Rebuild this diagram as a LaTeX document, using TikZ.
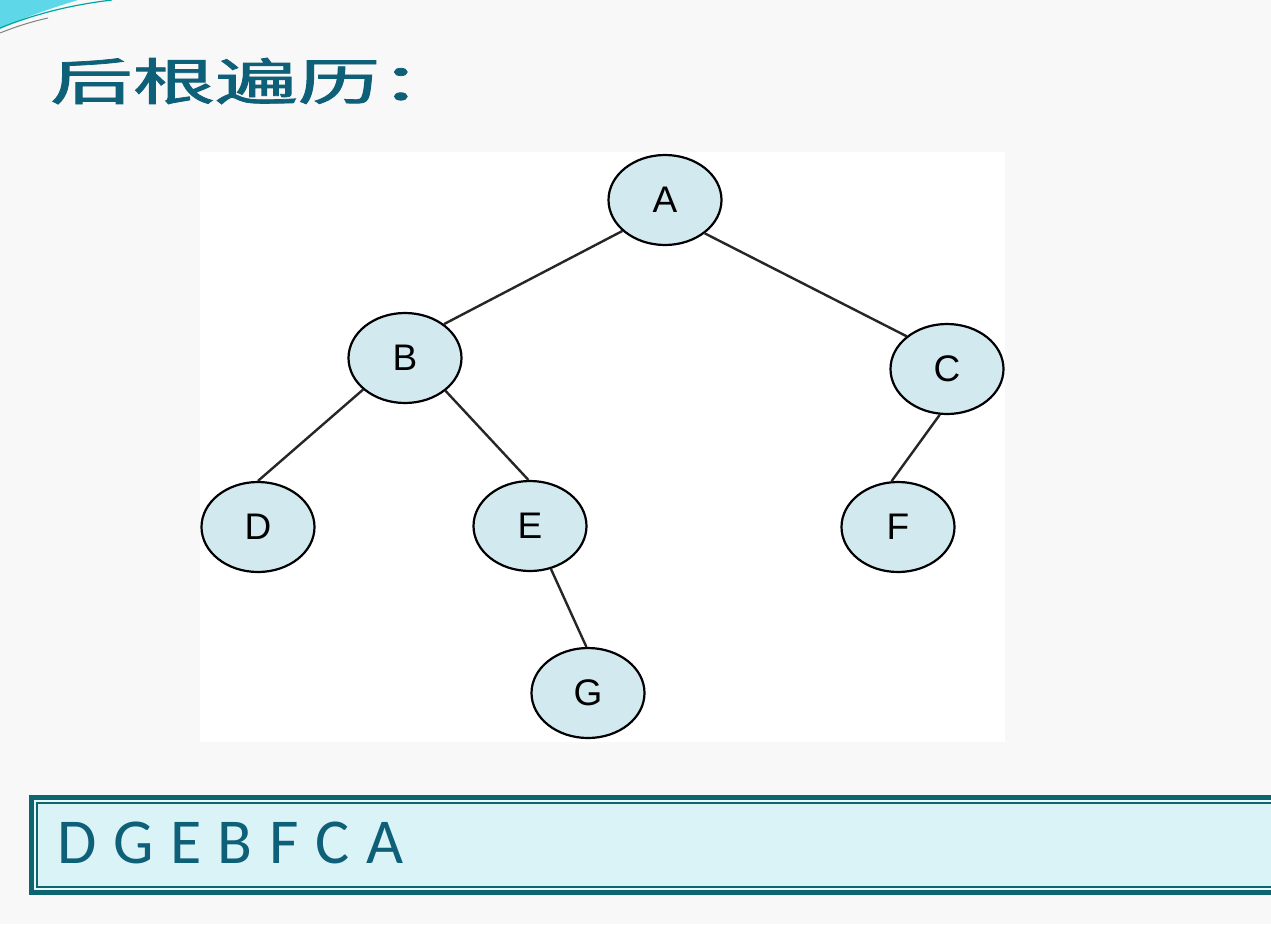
\documentclass[tikz,border=0pt]{standalone}
\usepackage{fontspec}
\usetikzlibrary{shapes.geometric}
\newfontfamily\cjk{Noto Sans CJK SC}[FakeBold=1.5]
\newfontfamily\arialf{Liberation Sans}
\newfontfamily\calib{Carlito}
\definecolor{bgc}{HTML}{F8F8F8}
\definecolor{nodefill}{HTML}{D3E9F0}
\definecolor{teal1}{HTML}{0B6670}
\definecolor{titlec}{HTML}{0E5F78}
\definecolor{boxfill}{HTML}{DAF3F7}
\definecolor{swoosh}{HTML}{5ED7E8}
\tikzset{
  tnode/.style={ellipse, draw=black, line width=2.2pt, fill=nodefill, minimum width=113pt, minimum height=90pt, inner sep=0pt, font=\arialf\fontsize{37}{37}\selectfont},
  tedge/.style={draw=black!85, line width=2.4pt}
}
\begin{document}
\begin{tikzpicture}[x=1pt,y=-1pt]
\useasboundingbox (0,0) rectangle (1271,924);
\fill[bgc] (0,0) rectangle (1271,924);
% corner swoosh
\fill[swoosh] (0,0) -- (78,0) .. controls (45,10) and (18,20) .. (0,29) -- cycle;
\draw[teal!70!cyan, line width=1.2pt] (0,28) .. controls (35,14) and (70,5) .. (112,0);
\draw[gray, line width=1pt] (0,33) .. controls (15,27) and (30,22) .. (48,18);
% title
\node[anchor=base west, text=titlec, inner sep=0pt] (title) at (50,100)
  {\scalebox{1.65}[1]{\cjk\fontsize{50}{50}\selectfont 后根遍历：}};
% plot area
\fill[white] (200,152) rectangle (1005,742);
% tree
\node[tnode] (A) at (665,200) {A};
\node[tnode] (B) at (405,358) {B};
\node[tnode] (C) at (947,369) {C};
\node[tnode] (D) at (258,527) {D};
\node[tnode] (E) at (530,526) {E};
\node[tnode] (F) at (898,527) {F};
\node[tnode] (G) at (588,693) {G};
\draw[tedge] (A.216) -- (B.41);
\draw[tedge] (A.320) -- (C.141);
\draw[tedge] (B.217) -- (D.90);
\draw[tedge] (B.321) -- (E.92);
\draw[tedge] (E.296) -- (G.92);
\draw[tedge] (C.261) -- (F.98);
% answer box
\fill[teal1] (29,795) rectangle (1271,895);
\fill[boxfill!60!white] (34,800) rectangle (1271,890);
\fill[teal1] (36,802) rectangle (1271,888);
\fill[boxfill] (38,804) rectangle (1271,886);
\node[anchor=base west, text=titlec, inner sep=0pt, font=\calib\fontsize{64}{64}\selectfont] (ans) at (57,863) {D\hspace{16.6pt}G\hspace{16.6pt}E\hspace{16.6pt}B\hspace{16.6pt}F\hspace{16.6pt}C\hspace{16.6pt}A};
\end{tikzpicture}
\end{document}
